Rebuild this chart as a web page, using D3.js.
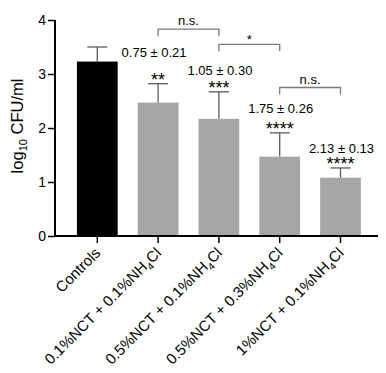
<!DOCTYPE html>
<html>
<head>
<meta charset="utf-8">
<script src="https://cdn.jsdelivr.net/npm/d3@7"></script>
<style>
  body { margin: 0; background: white; }
  text { font-family: "Liberation Sans", Arial, sans-serif; }
</style>
</head>
<body>
<div id="chart"></div>
<script>
// Chart data
const categories = ['Controls', '0.1%NCT + 0.1%NH4Cl', '0.5%NCT + 0.1%NH4Cl', '0.5%NCT + 0.3%NH4Cl', '1%NCT + 0.1%NH4Cl'];
const means = [3.23, 2.47, 2.17, 1.47, 1.08];
const sds = [0.27, 0.35, 0.50, 0.44, 0.18];
const stars = ['', '**', '***', '****', '****'];
const reductions = ['', '0.75 ± 0.21', '1.05 ± 0.30', '1.75 ± 0.26', '2.13 ± 0.13'];
const yTicks = [0, 1, 2, 3, 4];
const comparisons = [
    {from: 1, to: 2, label: 'n.s.', level: 3.83},
    {from: 2, to: 3, label: '*', level: 3.55},
    {from: 3, to: 4, label: 'n.s.', level: 2.75}
];

// where the reduction labels sit (data units) and their nudge in px
const reductionLevel = [0, 3.31, 2.98, 2.28, 1.54];
const reductionDx = [0, -4, 1, 1, 1];

const width = 386, height = 373;

const svg = d3.select('#chart')
    .append('svg')
    .attr('width', width)
    .attr('height', height)
    .style('background', 'white');

// Scales
const yScale = d3.scaleLinear()
    .domain([0, 4])
    .range([236, 20]);

const xScale = d3.scaleBand()
    .domain(categories)
    .range([66.9, 370.9])
    .paddingInner(0.33)
    .paddingOuter(0.165);

const cx = d => xScale(d) + xScale.bandwidth() / 2;

// Bars
svg.selectAll('.bar')
    .data(categories)
    .enter()
    .append('rect')
    .attr('class', 'bar')
    .attr('x', d => xScale(d))
    .attr('y', (d, i) => yScale(means[i]))
    .attr('width', xScale.bandwidth())
    .attr('height', (d, i) => yScale(0) - yScale(means[i]))
    .attr('fill', (d, i) => i === 0 ? '#000' : '#a6a6a6');

// Error bars (upper only)
categories.forEach((c, i) => {
    const x = cx(c);
    const top = yScale(means[i] + sds[i]);
    svg.append('line')
        .attr('x1', x).attr('x2', x)
        .attr('y1', yScale(means[i])).attr('y2', top)
        .attr('stroke', '#5a5a5a')
        .attr('stroke-width', 1.3);
    svg.append('line')
        .attr('x1', x - 10).attr('x2', x + 10)
        .attr('y1', top).attr('y2', top)
        .attr('stroke', '#5a5a5a')
        .attr('stroke-width', 1.3);

    if (stars[i]) {
        svg.append('text')
            .attr('x', x)
            .attr('y', top + 2)
            .attr('text-anchor', 'middle')
            .style('font-size', '18px')
            .text(stars[i]);
    }
    if (reductions[i]) {
        svg.append('text')
            .attr('x', x + reductionDx[i])
            .attr('y', yScale(reductionLevel[i]))
            .attr('text-anchor', 'middle')
            .style('font-size', '13px')
            .text(reductions[i]);
    }
});

// Significance brackets
comparisons.forEach(c => {
    const x1 = cx(categories[c.from]);
    const x2 = cx(categories[c.to]);
    const y = yScale(c.level);
    svg.append('path')
        .attr('d', `M${x1},${y + 7}V${y}H${x2}V${y + 7}`)
        .attr('fill', 'none')
        .attr('stroke', '#7a7a7a')
        .attr('stroke-width', 1.3);
    svg.append('text')
        .attr('x', (x1 + x2) / 2)
        .attr('y', c.label === '*' ? y : y - 4)
        .attr('text-anchor', 'middle')
        .style('font-size', '13px')
        .text(c.label);
});

// Y axis
const yAxis = svg.append('g')
    .attr('transform', 'translate(55,0)')
    .call(d3.axisLeft(yScale).tickValues(yTicks).tickFormat(d3.format('d')).tickSize(7).tickPadding(2));
yAxis.select('.domain').attr('stroke-width', 2).attr('d', `M0,${yScale(4)}V${yScale(0) + 1}`);
yAxis.selectAll('.tick line').attr('stroke-width', 1.5);
yAxis.selectAll('.tick text')
    .style('font-size', '14px')
    .style('font-family', '"Liberation Sans", Arial, sans-serif')
    .attr('fill', '#000');

// X axis
const xAxis = svg.append('g')
    .attr('transform', `translate(0,${yScale(0)})`);
xAxis.append('line')
    .attr('x1', 54).attr('x2', 378)
    .attr('stroke', '#000')
    .attr('stroke-width', 2);
xAxis.selectAll('.xtick')
    .data(categories)
    .enter()
    .append('line')
    .attr('x1', d => cx(d)).attr('x2', d => cx(d))
    .attr('y1', 0).attr('y2', 7)
    .attr('stroke', '#000')
    .attr('stroke-width', 1.5);

// Category labels with NH4 subscript
categories.forEach(c => {
    const t = svg.append('text')
        .attr('transform', `translate(${cx(c) + 4},${yScale(0) + 18}) rotate(-45)`)
        .attr('text-anchor', 'end')
        .style('font-size', '15px');
    const parts = c.split('NH4');
    if (parts.length === 1) {
        t.text(c);
    } else {
        t.append('tspan').text(parts[0] + 'NH');
        t.append('tspan').attr('dy', 4).style('font-size', '10px').text('4');
        t.append('tspan').attr('dy', -4).text(parts[1]);
    }
});

// Y axis label
const yLabel = svg.append('text')
    .attr('transform', `translate(23,${(yScale(0) + yScale(4)) / 2 - 2}) rotate(-90)`)
    .attr('text-anchor', 'middle')
    .style('font-size', '16.5px');
yLabel.append('tspan').text('log');
yLabel.append('tspan').attr('dy', 4).style('font-size', '11px').text('10');
yLabel.append('tspan').attr('dy', -4).text(' CFU/ml');
</script>
</body>
</html>
